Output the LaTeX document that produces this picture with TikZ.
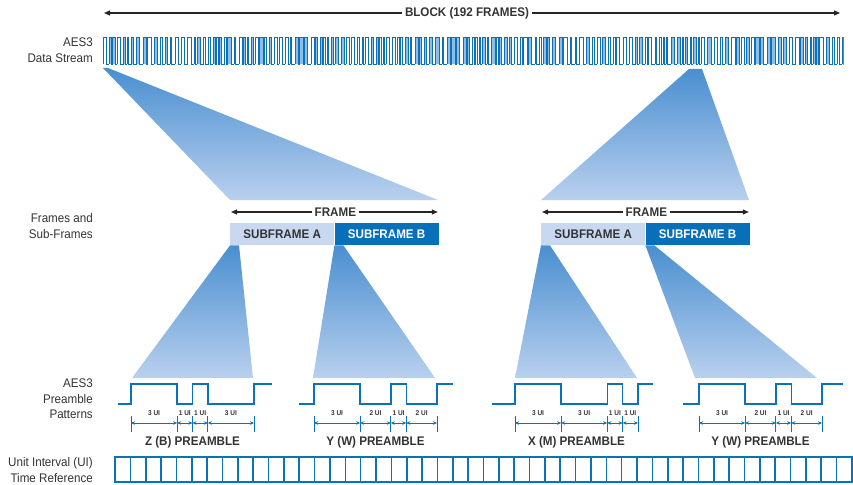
\documentclass[tikz,border=0pt]{standalone}
\usepackage{fontspec}
\setmainfont{Liberation Sans}
\newfontfamily\condfont[FakeStretch=0.93]{Liberation Sans}
\usetikzlibrary{arrows.meta,positioning,calc}
\definecolor{cLine}{HTML}{0A72BA}
\definecolor{cSubA}{HTML}{C8D8F0}
\definecolor{cSubB}{HTML}{0870B8}
\definecolor{cFunTop}{HTML}{4A8FD0}
\definecolor{cFunBot}{HTML}{B9D0EE}
\definecolor{cPulse}{HTML}{8DBFE8}
\definecolor{cText}{HTML}{333333}

\begin{document}
\begin{tikzpicture}[x=1pt,y=-1pt,>=Stealth,
   side/.style={anchor=east,align=right,inner sep=1pt,text=cText,
     font=\condfont\fontsize{12.5}{15.5}\selectfont},
   title/.style={inner sep=3pt,text=cText,
     font=\condfont\fontsize{12.5}{14}\selectfont\bfseries},
   sub/.style={minimum width=104pt,minimum height=22pt,inner sep=0pt,
     font=\condfont\fontsize{12.5}{14}\selectfont\bfseries},
   span/.style={line width=1.2pt,black!85,-{Triangle[length=6pt,width=5pt]}},
   funnel/.style={top color=cFunTop,bottom color=cFunBot},
   stream/.style={cLine,line width=0.9pt},
   wave/.style={cLine,line width=1.4pt,line join=miter},
   tick/.style={cLine,line width=0.9pt},
   dim/.style={cLine,line width=0.8pt,
     {Stealth[length=4pt,width=3.5pt]}-{Stealth[length=4pt,width=3.5pt]}},
   ui/.style={inner sep=0pt,text=cText,font=\condfont\fontsize{7}{8}\selectfont\bfseries},
   uibox/.style={cLine,line width=1.6pt}]
  \useasboundingbox (0,0) rectangle (853,484);
  % side labels
  \node[side] (lStream) at (94,50) {AES3\\Data Stream};
  \node[side] (lFrames) at (94,226) {Frames and\\Sub-Frames};
  \node[side] (lPre) at (94,399) {AES3\\Preamble\\Patterns};
  \node[side] (lUI) at (94,470) {Unit Interval (UI)\\Time Reference};
  % block span
  \coordinate (blkL) at (104,13);
  \coordinate (blkR) at (840,13);
  \node[title] (blk) at (467,13) {BLOCK (192 FRAMES)};
  \draw[span] (blk) -- (blkL);
  \draw[span] (blk) -- (blkR);
  % data stream
  \pgfmathsetseed{11}
  \xdef\xpos{103}
  \begin{scope}
    \clip (101,30) rectangle (843.5,70);
    \foreach \i in {1,...,170}{
      \pgfmathsetmacro\w{1.6*random(1,2)}
      \pgfmathsetmacro\g{1.6*random(1,2)}
      \pgfmathtruncatemacro\lit{random(0,1)}
      \ifnum\lit=0 \fill[cPulse] (\xpos,37) rectangle (\xpos+\w,64);\fi
      \draw[stream] (\xpos,64) -- (\xpos,37) -- (\xpos+\w,37)
        -- (\xpos+\w,64) -- (\xpos+\w+\g,64);
      \pgfmathsetmacro\nx{\xpos+\w+\g}
      \xdef\xpos{\nx}
    }
  \end{scope}
  % upper funnels
  \shade[funnel] (103,68) -- (108,68) -- (438,200) -- (230,200) -- cycle;
  \shade[funnel] (689,69) -- (702,69) -- (749,200) -- (541,200) -- cycle;
  % frames
  \foreach \n/\x in {1/230,2/541}{
    \node[sub,fill=cSubA,text=cText,anchor=north west] (sfA\n) at (\x,223) {SUBFRAME A};
    \node[sub,fill=cSubB,text=white,right=0pt of sfA\n] (sfB\n) {SUBFRAME B};
    \coordinate (frL\n) at ($(sfA\n.north west)+(1,-11)$);
    \coordinate (frR\n) at ($(sfB\n.north east)+(-1,-11)$);
    \node[title] (fr\n) at ($(sfA\n.north east)+(1,-11)$) {FRAME};
    \draw[span] (fr\n) -- (frL\n);
    \draw[span] (fr\n) -- (frR\n);
  }
  % lower funnels
  \shade[funnel] (sfA1.south west) -- ++(9,0) -- (253,378) -- (132,378) -- cycle;
  \shade[funnel] (sfB1.south west) -- ++(9,0) -- (435,378) -- (313,378) -- cycle;
  \shade[funnel] (sfA2.south west) -- ++(9,0) -- (637,378) -- (515,378) -- cycle;
  \shade[funnel] (sfB2.south west) -- ++(9,0) -- (817,378) -- (695,378) -- cycle;
  % preamble patterns
  \def\u{15.375}
  \foreach \x/\pre/\post/\a/\b/\c/\d/\nm/\lbl in
     {131/13/18/3/1/1/3/pZ/{Z (B) PREAMBLE},
      314/15/16/3/2/1/2/pY/{Y (W) PREAMBLE},
      515/23/15/3/3/1/1/pX/{X (M) PREAMBLE},
      699/16/21/3/2/1/2/pW/{Y (W) PREAMBLE}}{
    \pgfmathsetmacro\xa{\x+\a*\u}
    \pgfmathsetmacro\xb{\xa+\b*\u}
    \pgfmathsetmacro\xc{\xb+\c*\u}
    \pgfmathsetmacro\xd{\xc+\d*\u}
    \draw[wave] (\x-\pre,404) -- (\x,404) -- (\x,384) -- (\xa,384) -- (\xa,404)
      -- (\xb,404) -- (\xb,384) -- (\xc,384) -- (\xc,404) -- (\xd,404)
      -- (\xd,384) -- (\xd+\post,384);
    \foreach \t [count=\k from 0] in {\x,\xa,\xb,\xc,\xd}{
      \coordinate (\nm\k) at (\t,423);
      \draw[tick] (\t,416) -- (\t,432);
    }
    \foreach \s/\e/\n in {0/1/\a,1/2/\b,2/3/\c,3/4/\d}{
      \draw[dim] (\nm\s) -- (\nm\e);
      \node[ui] (\nm l\s) at ($(\nm\s)!0.5!(\nm\e)+(0,-10)$) {\n\ UI};
    }
    \node[title,inner sep=0pt] (\nm t) at ($(\nm0)!0.5!(\nm4)+(0,19)$) {\lbl};
  }
  % unit interval reference
  \foreach \k in {0,...,47}
    \draw[uibox] (115+\k*15.354,457) rectangle ++(15.354,25);
\end{tikzpicture}
\end{document}
